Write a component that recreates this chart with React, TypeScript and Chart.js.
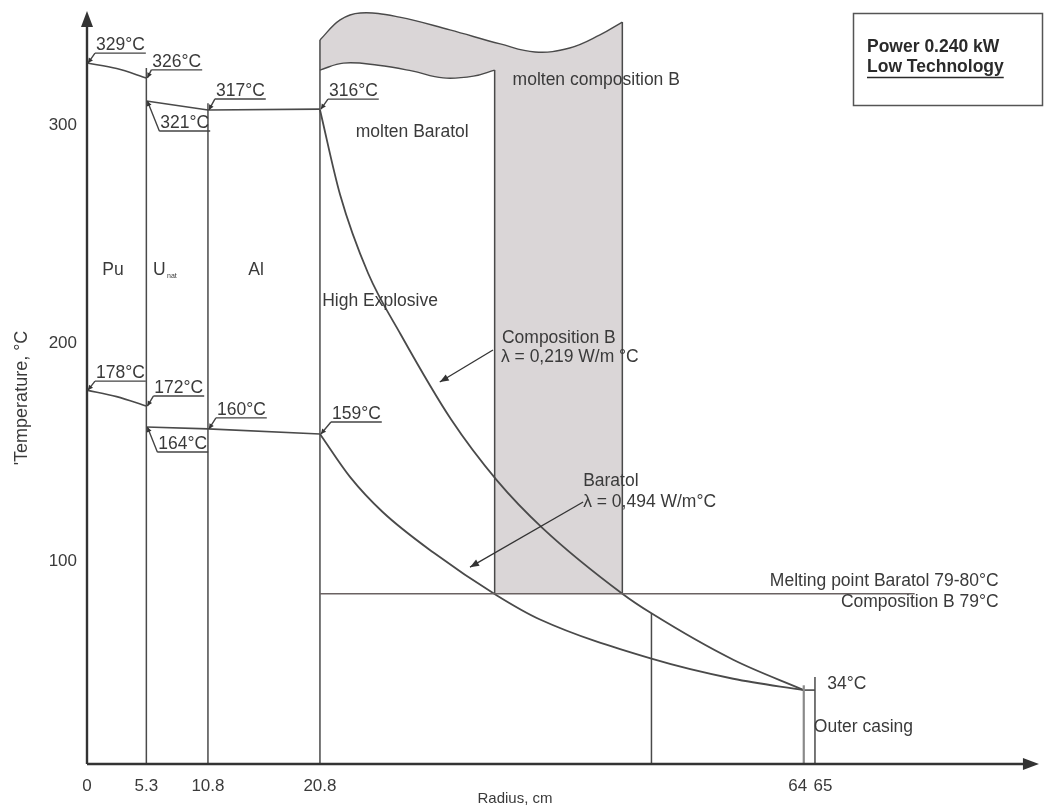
import React, { useEffect, useRef } from 'react';
import { Chart, registerables } from 'chart.js';
Chart.register(...registerables);

// ---------- scales ----------
const R_MIN = 0;
const R_MAX = 84.2;
const T_MIN = 6.9;
const T_MAX = 352.75;

const RADIUS_TICKS = [0, 5.3, 10.8, 20.8, 64, 65];
const RADIUS_TICK_LABELS = ['0', '5.3', '10.8', '20.8', '64', '65'];
const TEMP_TICKS = [100, 200, 300];

// ---------- temperature profiles (radius cm, temperature as drawn) ----------
const PU_HOT = [[0, 328.4], [2.65, 325.9], [5.3, 321.6]];
const U_AL_HOT = [[5.3, 311], [10.8, 306.9], [20.8, 307.3]];
const PU_COLD = [[0, 178.4], [2.65, 175.4], [5.3, 171.1]];
const U_AL_COLD = [[5.3, 161.5], [10.8, 160.6], [20.8, 158.3]];
const COMP_B = [[20.8, 307], [22.6, 268], [25.1, 232], [28, 204], [32.5, 165], [36.6, 137], [40.7, 115], [47.8, 85], [50.4, 76], [57.7, 54.7], [64, 40.8]];
const BARATOL = [[20.8, 158.3], [23.5, 138.5], [26.4, 122.5], [30.9, 104], [36.6, 84.2], [40.4, 73.3], [50.4, 55.2], [57.7, 46], [64, 40.8]];
const CASING = [[64, 40.8], [65, 40.8]];

// ---------- melting zones ----------
const MELT_T = 85;
const MELT_LINE = [[20.8, 85], [73.9, 85]];
const COMPB_MOLTEN_TOP = [[20.8, 339], [22.6, 348.2], [24.4, 351.4], [27.9, 349.5], [32.4, 343.6], [36.9, 337.2], [40.0, 333.5], [43.1, 335.3], [45.8, 341.3], [47.8, 347.2]];
const BARATOL_MOLTEN_TOP = [[20.8, 325.2], [22.9, 328.4], [26, 327.4], [29, 324.8], [31.8, 321.6], [34.5, 322.4], [36.4, 325.2]];

// layer boundaries: [radius, bottom T, top T]
const BOUNDARIES = [
  [5.3, T_MIN, 326.1],
  [10.8, T_MIN, 310],
  [20.8, T_MIN, 339],
  [50.4, T_MIN, 76.1],
  [65, T_MIN, 46.8],
  [36.4, 85, 325.2],
  [47.8, 85, 347.2],
];
const CASING_INNER = [[64, T_MIN], [64, 43]];

// ---------- annotations ----------
const TEMP_LABELS = [
  { text: '329°C', r: 0, t: 328.4, dx: 8, dy: -10 },
  { text: '326°C', r: 5.3, t: 321.6, dx: 5, dy: -8 },
  { text: '321°C', r: 5.3, t: 311, dx: 13, dy: 30 },
  { text: '317°C', r: 10.8, t: 306.9, dx: 7, dy: -11 },
  { text: '316°C', r: 20.8, t: 307.3, dx: 8, dy: -10 },
  { text: '178°C', r: 0, t: 178.4, dx: 8, dy: -9 },
  { text: '172°C', r: 5.3, t: 171.1, dx: 7, dy: -10 },
  { text: '164°C', r: 5.3, t: 161.5, dx: 11, dy: 25 },
  { text: '160°C', r: 10.8, t: 160.6, dx: 8, dy: -11 },
  { text: '159°C', r: 20.8, t: 158.3, dx: 11, dy: -12 },
];

const REGION_LABELS = [
  { text: 'Pu', r: 2.32, t: 233.5, align: 'center' },
  { text: 'Al', r: 15.1, t: 233.5, align: 'center' },
  { text: 'High Explosive', r: 21.0, t: 219.3, align: 'left' },
  { text: 'molten Baratol', r: 24.0, t: 296.8, align: 'left' },
  { text: 'molten composition B', r: 38.0, t: 320.6, align: 'left' },
  { text: 'Composition B', r: 37.05, t: 202.3, align: 'left' },
  { text: 'λ = 0,219 W/m °C', r: 36.96, t: 193.6, align: 'left' },
  { text: 'Baratol', r: 44.3, t: 136.7, align: 'left' },
  { text: 'λ = 0,494 W/m°C', r: 44.3, t: 127.1, align: 'left' },
  { text: 'Melting point Baratol 79-80°C', r: 81.4, t: 90.8, align: 'right' },
  { text: 'Composition B 79°C', r: 81.4, t: 81.2, align: 'right' },
  { text: '34°C', r: 66.1, t: 43.6, align: 'left' },
  { text: 'Outer casing', r: 64.9, t: 23.9, align: 'left' },
];

// arrows [fromR, fromT, toR, toT]
const POINTER_ARROWS = [
  [36.25, 196.8, 31.5, 182.1],
  [44.3, 127.1, 34.2, 97.2],
];

const FONT = "'Liberation Sans', Arial, Helvetica, sans-serif";
const INK = '#4a4a4a';
const TEXT = '#3a3a3a';

const pts = (a: number[][]) => a.map(([x, y]) => ({ x, y }));

function lineDs(data: number[][], extra: any = {}) {
  return {
    data: pts(data),
    borderColor: INK,
    borderWidth: 1.6,
    pointRadius: 0,
    fill: false,
    tension: 0,
    order: 0,
    clip: false,
    ...extra,
  };
}

function arrowHead(ctx: CanvasRenderingContext2D, x1: number, y1: number, x2: number, y2: number, len: number, half: number) {
  const a = Math.atan2(y2 - y1, x2 - x1);
  ctx.beginPath();
  ctx.moveTo(x2, y2);
  ctx.lineTo(x2 - len * Math.cos(a) + half * Math.sin(a), y2 - len * Math.sin(a) - half * Math.cos(a));
  ctx.lineTo(x2 - len * Math.cos(a) - half * Math.sin(a), y2 - len * Math.sin(a) + half * Math.cos(a));
  ctx.closePath();
  ctx.fill();
}

const annotPlugin = {
  id: 'annot',
  afterDatasetsDraw(chart: any) {
    const { ctx, scales } = chart;
    const xs = scales.x, ys = scales.y;
    const px = (r: number) => xs.getPixelForValue(r);
    const py = (t: number) => ys.getPixelForValue(t);
    ctx.save();

    // axes with arrows
    const ox = px(0), oy = py(T_MIN);
    ctx.strokeStyle = '#333';
    ctx.fillStyle = '#333';
    ctx.lineWidth = 2.4;
    ctx.beginPath();
    ctx.moveTo(ox, oy);
    ctx.lineTo(ox, py(349));
    ctx.moveTo(ox, oy);
    ctx.lineTo(px(84), oy);
    ctx.stroke();
    arrowHead(ctx, ox, oy, ox, py(352.3), 16, 6);
    arrowHead(ctx, ox, oy, px(85.0), oy, 16, 6);

    // tick labels
    ctx.fillStyle = TEXT;
    ctx.font = `17px ${FONT}`;
    ctx.textBaseline = 'middle';
    ctx.textAlign = 'center';
    const shift: Record<string, number> = { '64': -6, '65': 8 };
    RADIUS_TICKS.forEach((v, i) => {
      const lab = RADIUS_TICK_LABELS[i];
      ctx.fillText(lab, px(v) + (shift[lab] || 0), oy + 22);
    });
    ctx.textAlign = 'right';
    TEMP_TICKS.forEach((v) => ctx.fillText(String(v), ox - 10, py(v)));

    // axis titles
    ctx.font = `15px ${FONT}`;
    ctx.textAlign = 'center';
    ctx.fillText('Radius, cm', 515, oy + 35);
    ctx.save();
    ctx.translate(22, 398);
    ctx.rotate(-Math.PI / 2);
    ctx.font = `18px ${FONT}`;
    ctx.fillText("'Temperature, °C", 0, 0);
    ctx.restore();

    // region labels
    ctx.font = `17.5px ${FONT}`;
    for (const L of REGION_LABELS) {
      ctx.textAlign = L.align as CanvasTextAlign;
      ctx.fillText(L.text, px(L.r), py(L.t));
    }
    // U with subscript
    ctx.textAlign = 'left';
    ctx.fillText('U', px(5.9), py(233.5));
    ctx.font = `7px ${FONT}`;
    ctx.fillText('nat', px(5.9) + 14, py(233.5) + 6);

    // pointer arrows
    ctx.strokeStyle = '#333';
    ctx.fillStyle = '#333';
    ctx.lineWidth = 1.3;
    for (const [r1, t1, r2, t2] of POINTER_ARROWS) {
      const x1 = px(r1), y1 = py(t1), x2 = px(r2), y2 = py(t2);
      ctx.beginPath();
      ctx.moveTo(x1, y1);
      ctx.lineTo(x2, y2);
      ctx.stroke();
      arrowHead(ctx, x1, y1, x2, y2, 9, 3.5);
    }

    // temperature labels with leaders
    ctx.font = `17.5px ${FONT}`;
    ctx.lineWidth = 1.4;
    ctx.strokeStyle = '#444';
    for (const L of TEMP_LABELS) {
      const ax = px(L.r), ay = py(L.t);
      const ux = ax + L.dx, uy = ay + L.dy;
      const w = ctx.measureText(L.text).width;
      ctx.beginPath();
      ctx.moveTo(ux, uy);
      ctx.lineTo(ux + w + 2, uy);
      ctx.moveTo(ux, uy);
      ctx.lineTo(ax + 1, ay);
      ctx.stroke();
      ctx.fillStyle = '#333';
      arrowHead(ctx, ux, uy, ax + 1, ay, 5, 2.5);
      ctx.fillStyle = TEXT;
      ctx.textAlign = 'left';
      ctx.textBaseline = 'alphabetic';
      ctx.fillText(L.text, ux + 1, uy - 3);
    }

    // info box
    ctx.strokeStyle = '#555';
    ctx.lineWidth = 1.5;
    ctx.strokeRect(853.5, 13.5, 189, 92);
    ctx.fillStyle = '#2a2a2a';
    ctx.font = `bold 17.5px ${FONT}`;
    ctx.textAlign = 'left';
    ctx.textBaseline = 'middle';
    ctx.fillText('Power 0.240 kW', 867, 47);
    ctx.fillText('Low Technology', 867, 67);
    const lw = ctx.measureText('Low Technology').width;
    ctx.lineWidth = 1.6;
    ctx.strokeStyle = '#2a2a2a';
    ctx.beginPath();
    ctx.moveTo(867, 77.5);
    ctx.lineTo(867 + lw, 77.5);
    ctx.stroke();

    ctx.restore();
  },
};

export default function App() {
  const ref = useRef<HTMLCanvasElement | null>(null);
  useEffect(() => {
    if (!ref.current) return;
    const datasets: any[] = [
      lineDs(COMPB_MOLTEN_TOP, { fill: { value: MELT_T }, backgroundColor: '#dad6d7', tension: 0.4, order: 20, borderWidth: 1.4 }),
      lineDs(BARATOL_MOLTEN_TOP, { fill: { value: MELT_T }, backgroundColor: '#ffffff', tension: 0.4, order: 19, borderWidth: 1.4 }),
      lineDs(MELT_LINE, { borderColor: '#6a6262', borderWidth: 1.4 }),
      ...BOUNDARIES.map(([r, t0, t1]) => lineDs([[r, t0], [r, t1]], { borderWidth: 1.5 })),
      lineDs(CASING_INNER, { borderColor: '#8a8a8a', borderWidth: 2.2 }),
      lineDs(PU_HOT, { cubicInterpolationMode: 'monotone' }),
      lineDs(U_AL_HOT),
      lineDs(PU_COLD, { cubicInterpolationMode: 'monotone' }),
      lineDs(U_AL_COLD),
      lineDs(COMP_B, { cubicInterpolationMode: 'monotone', borderWidth: 1.8 }),
      lineDs(BARATOL, { cubicInterpolationMode: 'monotone', borderWidth: 1.8 }),
      lineDs(CASING),
    ];
    const chart = new Chart(ref.current, {
      type: 'line',
      data: { datasets },
      options: {
        animation: false,
        responsive: false,
        devicePixelRatio: 1,
        layout: { padding: { left: 87, right: 18, top: 10, bottom: 42 } },
        plugins: { legend: { display: false }, tooltip: { enabled: false }, title: { display: false } },
        scales: {
          x: { type: 'linear', min: R_MIN, max: R_MAX, display: false },
          y: { type: 'linear', min: T_MIN, max: T_MAX, display: false },
        },
        events: [],
      },
      plugins: [annotPlugin],
    });
    return () => chart.destroy();
  }, []);
  return (
    <>
      <style>{`html,body{margin:0;padding:0;overflow:hidden;background:#fff}`}</style>
      <canvas ref={ref} width={1048} height={806} style={{ display: 'block', width: 1048, height: 806 }} />
    </>
  );
}
